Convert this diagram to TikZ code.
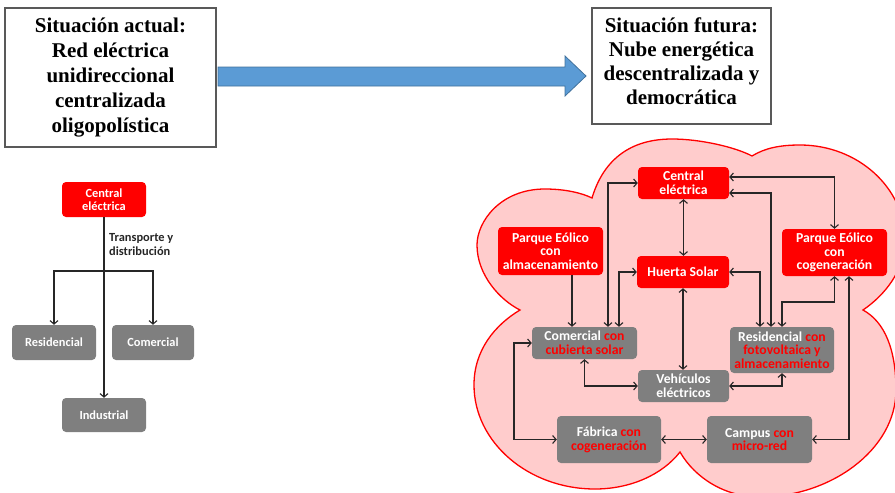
\documentclass[tikz,border=0pt]{standalone}
\usepackage{fontspec}
\setmainfont{Liberation Serif}
\newfontfamily\calfont{Carlito}
\usetikzlibrary{arrows.meta}
\definecolor{boxred}{HTML}{FF0000}
\definecolor{boxgray}{HTML}{7F7F7F}
\definecolor{cloudfill}{HTML}{FFCCCC}
\definecolor{cloudline}{HTML}{FF0000}
\definecolor{linecol}{HTML}{262626}
\definecolor{arrowfill}{HTML}{5B9BD5}
\definecolor{arrowline}{HTML}{41719C}
\definecolor{framecol}{HTML}{595959}
\begin{document}
\begin{tikzpicture}[x=1pt,y=-1pt,
  redbox/.style={fill=boxred, rounded corners=4pt, text=white, font=\calfont\bfseries\fontsize{13.7}{13.7}\selectfont, align=center, inner sep=0pt},
  graybox/.style={redbox, fill=boxgray},
  lred/.style={redbox, font=\calfont\bfseries\fontsize{12.4}{13.3}\selectfont},
  lgray/.style={lred, fill=boxgray},
  conn/.style={draw=linecol, line width=1.1pt},
  bi/.style={conn, {Straight Barb[length=3.5pt,width=8pt]}-{Straight Barb[length=3.5pt,width=8pt]}},
  uni/.style={conn, -{Straight Barb[length=3.5pt,width=8pt]}},
  titlebox/.style={draw=framecol, line width=1.2pt, inner sep=0pt},
  titletext/.style={font=\bfseries\fontsize{21}{25}\selectfont, align=center, inner sep=0pt}
]
\useasboundingbox (0,0) rectangle (895,493);

% title boxes and arrow
\node[titlebox, titletext, minimum width=211pt, minimum height=139pt] (t1) at (110.5,77.5) {Situación actual:\\Red eléctrica\\unidireccional\\centralizada\\oligopolística};
\node[titlebox, minimum width=179pt, minimum height=116pt] (t2) at (681.5,66) {};
\node[titletext, font=\bfseries\fontsize{21}{24}\selectfont] (t2txt) at (681.5,61.5) {Situación futura:\\Nube energética\\descentralizada y\\democrática};
\draw[fill=arrowfill, draw=arrowline, line width=0.8pt] (218,67) -- (565,67) -- (565,56) -- (586,76) -- (565,96) -- (565,86) -- (218,86) -- cycle;

% left diagram
\node[lred, minimum width=84pt, minimum height=35pt] (lce) at (104,199.5) {Central\\eléctrica};
\node[lgray, minimum width=84pt, minimum height=35pt] (lres) at (54,342.5) {Residencial};
\node[lgray, minimum width=82pt, minimum height=35pt] (lcom) at (153,342.5) {Comercial};
\node[lgray, minimum width=84pt, minimum height=34pt] (lind) at (104,415) {Industrial};
\node[font=\calfont\bfseries\fontsize{12.4}{14}\selectfont, text=linecol, align=left, anchor=west, inner sep=0pt] (ltd) at (109,245) {Transporte y\\distribución};
\coordinate (jn) at (104,271);
\draw[uni] (lce.south) -- (lind.north);
\draw[uni] (jn) -| (lres.north);
\draw[uni] (jn) -| (lcom.north);

% cloud
\path[fill=cloudfill, draw=cloudline, line width=1.3pt] (520,310) .. controls (500,300) and (477,275) .. (477,245) .. controls (477,222) and (500,189) .. (545,189) .. controls (565,189) and (582,193) .. (592,198) .. controls (604,158) and (632,139) .. (672,139) .. controls (700,139) and (735,147) .. (752,156) .. controls (765,148) and (780,145) .. (800,145) .. controls (858,145) and (905,188) .. (905,240) .. controls (905,270) and (885,295) .. (863,310) .. controls (885,322) and (896,350) .. (896,390) .. controls (896,450) and (830,497) .. (760,497) .. controls (725,497) and (695,478) .. (680,452) .. controls (662,475) and (630,489) .. (595,489) .. controls (528,489) and (474,442) .. (474,385) .. controls (474,350) and (495,325) .. (520,310) -- cycle;

% right diagram nodes
\node[redbox, minimum width=91pt, minimum height=32pt] (ce) at (683.5,183) {Central\\eléctrica};
\node[redbox, minimum width=92pt, minimum height=32pt] (hs) at (683,272) {Huerta Solar};
\node[redbox, minimum width=105pt, minimum height=48pt] (pa) at (550.5,251) {Parque Eólico\\con\\almacenamiento};
\node[redbox, minimum width=105pt, minimum height=47pt] (pc) at (834.5,252.5) {Parque Eólico\\con\\cogeneración};
\node[graybox, minimum width=105pt, minimum height=32pt] (co) at (584.5,343) {Comercial \textcolor{boxred}{con}\\\textcolor{boxred}{cubierta solar}};
\node[graybox, minimum width=104pt, minimum height=46pt] (re) at (782,350) {Residencial \textcolor{boxred}{con}\\\textcolor{boxred}{fotovoltaica y}\\\textcolor{boxred}{almacenamiento}};
\node[graybox, minimum width=91pt, minimum height=32pt] (ve) at (683.5,386) {Vehículos\\eléctricos};
\node[graybox, minimum width=104pt, minimum height=47pt] (fa) at (609,439.5) {Fábrica \textcolor{boxred}{con}\\\textcolor{boxred}{cogeneración}};
\node[graybox, minimum width=105pt, minimum height=47pt] (ca) at (759.5,439.5) {Campus \textcolor{boxred}{con}\\\textcolor{boxred}{micro-red}};

% right diagram connectors
\draw[bi] (ce.south) -- (ce.south |- hs.north);
\draw[bi] (hs.south) -- (hs.south |- ve.north);
\draw[uni] (572,0 |- pa.south) -- (572,0 |- co.north);
\draw[bi] (608,0 |- co.north) |- (ce.west);
\draw[bi] (619,0 |- co.north) |- (hs.west);
\draw[bi] (ce.east |- 0,177) -| (pc.north);
\draw[bi] (ce.east |- 0,193) -| (771,0 |- re.north);
\draw[bi] (hs.east) -| (760,0 |- re.north);
\draw[bi] (re.north) |- (834.5,302) -- (pc.south);
\draw[bi] (849,0 |- pc.south) |- (ca.east);
\draw[bi] (co.south) |- (ve.west);
\draw[bi] (ve.east) -| (re.south);
\draw[bi] (co.west) -- (514,0 |- co.west) -- (514,0 |- fa.west) -- (fa.west);
\draw[bi] (fa.east) -- (ca.west);
\end{tikzpicture}
\end{document}
